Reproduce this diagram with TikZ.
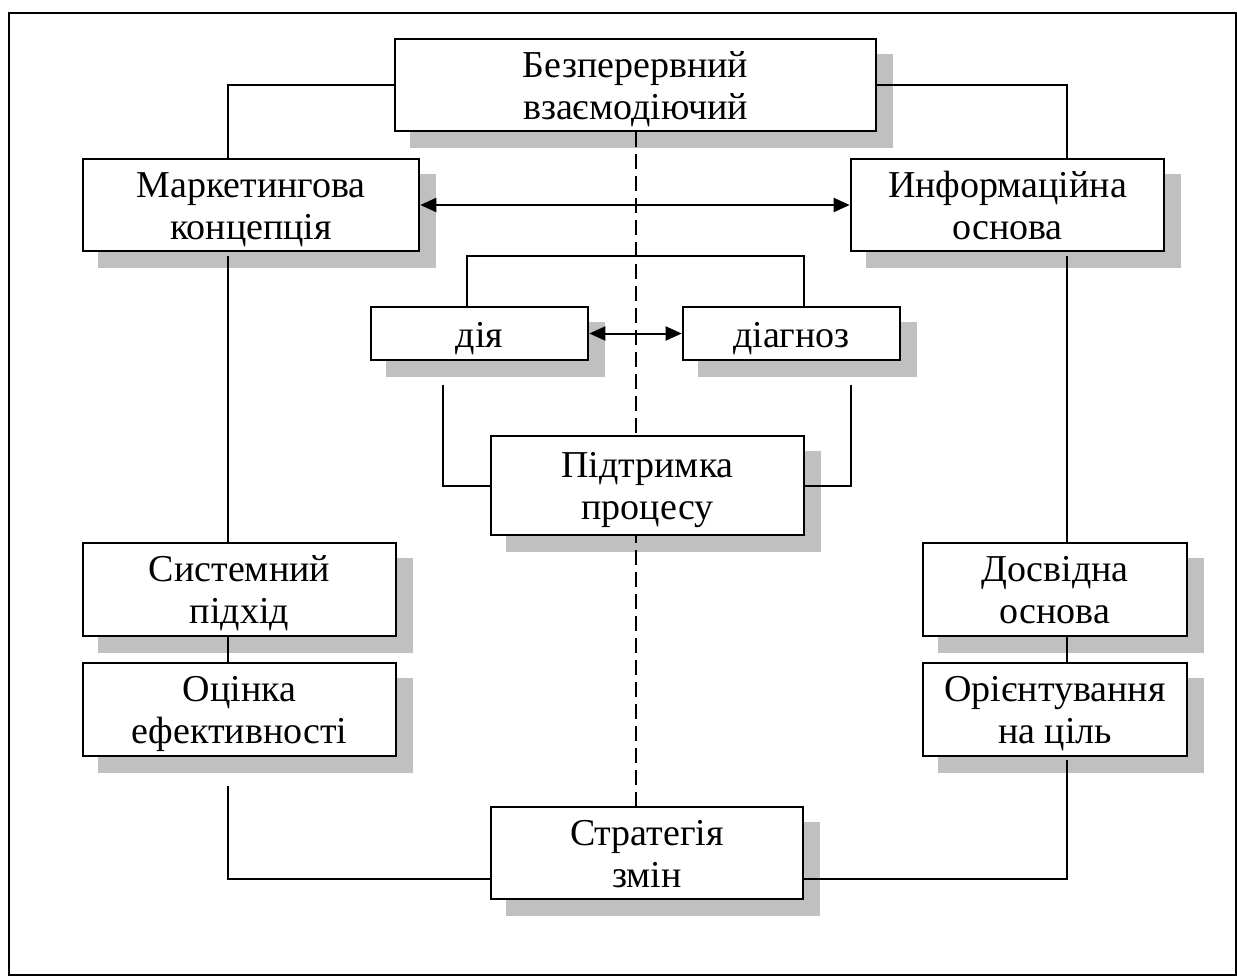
\documentclass[tikz,border=0pt]{standalone}
\usepackage{fontspec}
\setmainfont{Liberation Serif}
\usetikzlibrary{arrows.meta}
\pgfdeclarelayer{shadowlayer}
\pgfdeclarelayer{linelayer}
\pgfsetlayers{shadowlayer,linelayer,main}
\definecolor{shadowgray}{HTML}{C0C0C0}
\tikzset{
  box/.style={draw=black, line width=2.6pt, fill=white, inner sep=0pt,
    align=center, font=\fontsize{38}{42}\selectfont,
    text height=76pt, text depth=8pt},
  onebox/.style={box, text height=30pt, text depth=3pt},
  link/.style={line width=2pt},
  twoway/.style={link, {Triangle[length=16pt,width=14pt]}-{Triangle[length=16pt,width=14pt]}},
  axis/.style={line width=2pt, dash pattern=on 15pt off 7pt},
  frame/.style={line width=2.4pt},
}
\begin{document}
\begin{tikzpicture}[x=1pt,y=-1pt]
\useasboundingbox (0,0) rectangle (1237,977);
\draw[frame] (9,13) rectangle (1236,975);

% boxes
\node[box, minimum width=481, minimum height=92] (top)   at (635.5,85)   {Безперервний\\взаємодіючий};
\node[box, minimum width=336, minimum height=92] (mark)  at (251,205)    {Маркетингова\\концепція};
\node[box, minimum width=313, minimum height=92] (info)  at (1007.5,205) {Информаційна\\основа};
\node[onebox, minimum width=217, minimum height=53] (diya)  at (479.5,333.5){дія};
\node[onebox, minimum width=217, minimum height=53] (diag)  at (791.5,333.5){діагноз};
\node[box, minimum width=313, minimum height=99] (pidt)  at (647.5,485.5){Підтримка\\процесу};
\node[box, minimum width=313, minimum height=93] (sys)   at (239.5,589.5){Системний\\підхід};
\node[box, minimum width=313, minimum height=93] (ocin)  at (239.5,709.5){Оцінка\\ефективності};
\node[box, minimum width=264, minimum height=93] (dosv)  at (1055,589.5) {Досвідна\\основа};
\node[box, minimum width=264, minimum height=93] (orie)  at (1055,709.5) {Орієнтування\\на ціль};
\node[box, minimum width=312, minimum height=92] (strat) at (647,853)    {Стратегія\\змін};

% drop shadows
\begin{pgfonlayer}{shadowlayer}
\foreach \n in {top,mark,info,diya,diag,pidt,sys,ocin,dosv,orie,strat}
  \fill[shadowgray] ([shift={(16pt,-16pt)}]\n.south west) rectangle ([shift={(16pt,-16pt)}]\n.north east);
\end{pgfonlayer}

% guide positions of the connector lines
\coordinate (xl) at (228,0);
\coordinate (xr) at (1067,0);
\coordinate (xa) at (467,0);
\coordinate (xb) at (804,0);
\coordinate (xc) at (443,0);
\coordinate (xd) at (851,0);
\coordinate (yt) at (0,256);
\coordinate (yb) at (0,385);
\coordinate (ys) at (0,879);

\begin{pgfonlayer}{linelayer}
% outer ring
\draw[link] (top.west) -| (xl |- mark.north);
\draw[link] (top.east) -| (xr |- info.north);
\draw[link, shorten <=4pt] (xl |- mark.south) -- (xl |- sys.north);
\draw[link, shorten <=4pt] (xr |- info.south) -- (xr |- dosv.north);
\draw[link] (xl |- sys.south) -- (xl |- ocin.north);
\draw[link] (xr |- dosv.south) -- (xr |- orie.north);
\draw[link, shorten <=29pt] (xl |- ocin.south) |- (strat.west |- ys);
\draw[link, shorten <=3pt] (xr |- orie.south) |- (strat.east |- ys);
\draw[twoway] (mark.east) -- (info.west);
% inner ring
\draw[link] (xa |- diya.north) -- (xa |- yt) -- (xb |- yt) -- (xb |- diag.north);
\draw[twoway] (diya.east) -- (diag.west);
\draw[link] (xc |- yb) |- (pidt.west);
\draw[link] (xd |- yb) |- (pidt.east);
% central axis
\draw[axis] (top.south) -- (top.south |- strat.north);
\end{pgfonlayer}
\end{tikzpicture}
\end{document}
